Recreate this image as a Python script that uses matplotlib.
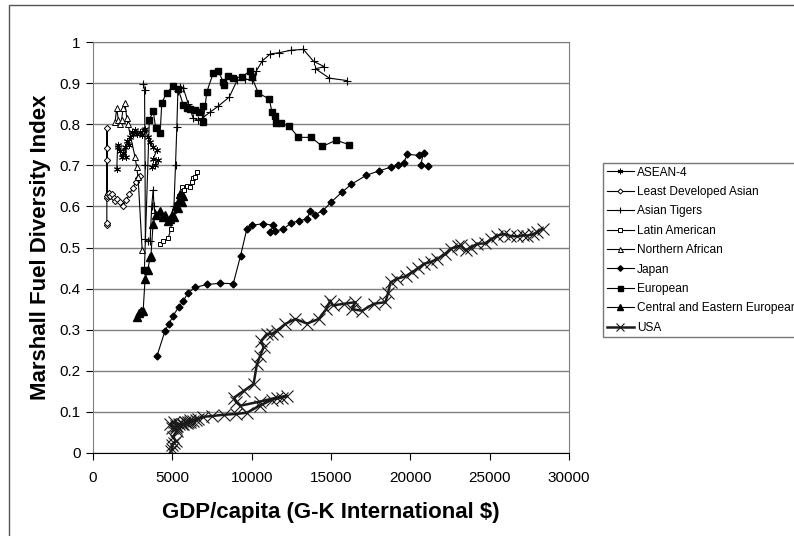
import matplotlib
matplotlib.use("Agg")
import matplotlib.pyplot as plt
from matplotlib.patches import Rectangle

plt.rcParams["font.family"] = ["Liberation Sans", "DejaVu Sans"]

# %%
# data (GDP/capita, Marshall index)
asean_x = [1500, 1550, 1600, 1700, 1800, 1900, 2000, 2050, 2150, 2250, 2350, 2440,
           2550, 2650, 2800, 2950, 3070, 3200, 3283, 3450, 3600, 3750, 4020, 3800,
           4120, 3900, 3700]
asean_y = [0.692, 0.745, 0.75, 0.735, 0.72, 0.73, 0.745, 0.72, 0.76, 0.75, 0.77, 0.781,
           0.775, 0.785, 0.775, 0.78, 0.773, 0.785, 0.789, 0.77, 0.757, 0.745, 0.737, 0.716,
           0.712, 0.70, 0.696]

lda_x = [860, 870, 875, 880, 880, 880, 900, 950, 1000, 1100, 1200, 1300, 1400, 1500,
         1700, 1894, 2100, 2300, 2500, 2700, 2850, 2970]
lda_y = [0.555, 0.56, 0.62, 0.79, 0.743, 0.714, 0.625, 0.63, 0.632, 0.625, 0.63, 0.62,
         0.612, 0.618, 0.61, 0.602, 0.615, 0.63, 0.645, 0.66, 0.668, 0.675]

tigers_x = [3180, 3250, 3280, 3300, 3450, 3600, 3700, 3790, 3850, 3900, 4100, 4300,
            4600, 4900, 5100, 5200, 5283, 5350, 5500, 5700, 6000, 6313, 6600, 6900,
            7400, 7900, 8585, 9090, 9600, 10040, 10300, 10670, 11175, 11740, 12480,
            13260, 13900, 14580, 14015, 14900, 16035]
tigers_y = [0.899, 0.883, 0.70, 0.52, 0.515, 0.517, 0.60, 0.64, 0.60, 0.583, 0.58, 0.575,
            0.565, 0.575, 0.60, 0.70, 0.793, 0.88, 0.89, 0.887, 0.85, 0.815, 0.81, 0.815,
            0.83, 0.844, 0.866, 0.907, 0.91, 0.907, 0.93, 0.954, 0.971, 0.974, 0.980,
            0.982, 0.953, 0.940, 0.935, 0.912, 0.906]

latin_x = [4230, 4440, 4735, 4900, 4950, 5100, 5300, 5450, 5600, 5750, 5900, 6124,
           6250, 6313, 6450, 6545]
latin_y = [0.509, 0.517, 0.522, 0.545, 0.57, 0.59, 0.605, 0.625, 0.647, 0.64, 0.65, 0.647,
           0.66, 0.668, 0.672, 0.683]

nafrica_x = [1390, 1494, 1600, 1700, 1800, 1900, 2020, 2125, 2200, 2650, 2750, 2840, 3100]
nafrica_y = [0.805, 0.839, 0.81, 0.80, 0.81, 0.84, 0.851, 0.815, 0.80, 0.72, 0.696, 0.671,
             0.493]

japan_x = [4040, 4545, 4800, 5050, 5400, 5685, 6000, 6440, 7175, 8017, 8840, 9300,
           9700, 10020, 10730, 11360, 11175, 11500, 12000, 12500, 13000, 13500, 13700,
           14000, 14500, 15000, 15700, 16290, 17235, 18000, 18810, 19200, 19570, 19820,
           20520, 20830, 20645, 21090]
japan_y = [0.237, 0.298, 0.315, 0.334, 0.355, 0.37, 0.39, 0.403, 0.41, 0.413, 0.412, 0.48,
           0.546, 0.554, 0.558, 0.554, 0.537, 0.54, 0.545, 0.56, 0.565, 0.57, 0.59,
           0.58, 0.59, 0.61, 0.635, 0.654, 0.676, 0.686, 0.696, 0.70, 0.705, 0.727,
           0.724, 0.73, 0.70, 0.698]

europe_x = [3240, 3550, 3800, 3950, 4230, 4337, 4650, 5070, 5370, 5700, 5950, 6130,
            6440, 6700, 6945, 6945, 7175, 7575, 7890, 8207, 8250, 8523, 8840, 9390,
            9910, 10000, 10420, 11110, 11280, 11490, 11550, 11850, 12375, 12940, 13745,
            14460, 15320, 16160]
europe_y = [0.446, 0.81, 0.832, 0.79, 0.778, 0.852, 0.877, 0.893, 0.885, 0.846, 0.84,
            0.837, 0.834, 0.83, 0.844, 0.806, 0.879, 0.924, 0.93, 0.903, 0.895, 0.917,
            0.912, 0.915, 0.93, 0.915, 0.876, 0.861, 0.83, 0.82, 0.802, 0.802, 0.795,
            0.768, 0.768, 0.746, 0.761, 0.75]

cee_x = [2760, 2900, 3000, 3160, 3283, 3450, 3600, 3650, 3790, 3950, 4230, 4400, 4550,
         4700, 4850, 4950, 5100, 5200, 5370, 5450, 5500, 5600, 5700]
cee_y = [0.33, 0.34, 0.345, 0.346, 0.424, 0.445, 0.476, 0.48, 0.558, 0.58, 0.59, 0.575,
         0.58, 0.565, 0.57, 0.58, 0.575, 0.60, 0.595, 0.615, 0.63, 0.61, 0.625]

usa_x = [4900, 5000, 4950, 5100, 5200, 5050, 5284, 5200, 4860, 5100, 5400, 5700, 5900,
         6100, 5800, 6313, 6630, 6100, 5300, 4950, 5250, 5600, 6000, 6500, 6945, 7500,
         8225, 9000, 9700, 10500, 11300, 11900, 12230, 11600, 10500, 9280, 9000, 8900,
         9490, 10120, 10330, 10540, 10750, 10600, 10960, 11300, 11600, 12120, 12750,
         13490, 14220, 14700, 14960, 15100, 15800, 16540, 16330, 16960, 17695, 18430,
         18600, 18750, 19170, 19700, 20120, 20500, 20850, 21300, 21700, 22200, 22540,
         23000, 23170, 23485, 23800, 24220, 24700, 25100, 25490, 25900, 26300, 26750,
         27100, 27380, 27700, 28010, 28330]
usa_y = [0.005, 0.01, 0.02, 0.025, 0.03, 0.04, 0.054, 0.06, 0.07, 0.075, 0.07, 0.07,
         0.072, 0.08, 0.075, 0.078, 0.083, 0.075, 0.065, 0.06, 0.065, 0.07, 0.075, 0.08,
         0.088, 0.09, 0.093, 0.095, 0.098, 0.115, 0.13, 0.135, 0.139, 0.135, 0.125,
         0.115, 0.125, 0.135, 0.151, 0.168, 0.216, 0.237, 0.257, 0.273, 0.29, 0.29, 0.298,
         0.314, 0.326, 0.315, 0.326, 0.35, 0.371, 0.359, 0.363, 0.367, 0.35, 0.346,
         0.363, 0.367, 0.39, 0.415, 0.424, 0.43, 0.44, 0.45, 0.46, 0.465, 0.472, 0.485,
         0.497, 0.503, 0.505, 0.493, 0.50, 0.509, 0.51, 0.52, 0.529, 0.533, 0.528, 0.527,
         0.53, 0.529, 0.532, 0.537, 0.546]

x_ticks = [0, 5000, 10000, 15000, 20000, 25000, 30000]
y_ticks = [0, 0.1, 0.2, 0.3, 0.4, 0.5, 0.6, 0.7, 0.8, 0.9, 1]
y_tick_labels = ["0", "0.1", "0.2", "0.3", "0.4", "0.5", "0.6", "0.7", "0.8", "0.9", "1"]

# %%
fig = plt.figure(figsize=(7.94, 5.36), dpi=100)
ax = fig.add_axes([93 / 794, 1 - 453 / 536, 476 / 794, 411 / 536])

# chart area border (runs off the right and bottom edges)
fig.patches.append(Rectangle((9 / 794, -0.2), 1.2, 1 - 5 / 536 + 0.2,
                             transform=fig.transFigure, fill=False,
                             edgecolor="#555555", linewidth=1.0))

thin = dict(color="black", linewidth=0.8)
ax.plot(asean_x, asean_y, marker=(6, 2, 0), markersize=5, markeredgewidth=0.7,
        label="ASEAN-4", **thin)
ax.plot(lda_x, lda_y, marker="D", markersize=3.2, markerfacecolor="white",
        markeredgewidth=0.7, label="Least Developed Asian", **thin)
ax.plot(tigers_x, tigers_y, marker="+", markersize=6, markeredgewidth=0.8,
        label="Asian Tigers", **thin)
ax.plot(latin_x, latin_y, marker="s", markersize=3.5, markerfacecolor="white",
        markeredgewidth=0.7, label="Latin American", **thin)
ax.plot(nafrica_x, nafrica_y, marker="^", markersize=4.5, markerfacecolor="white",
        markeredgewidth=0.7, label="Northern African", **thin)
ax.plot(japan_x, japan_y, marker="D", markersize=3.5, label="Japan", **thin)
ax.plot(europe_x, europe_y, marker="s", markersize=4.5, label="European", **thin)
ax.plot(cee_x, cee_y, marker="^", markersize=5.5,
        label="Central and Eastern European", **thin)
ax.plot(usa_x, usa_y, color="#1a1a1a", linewidth=1.8, marker="x", markersize=8,
        markeredgewidth=0.8, label="USA")

ax.set_xlim(0, 30000)
ax.set_ylim(0, 1)
ax.set_xticks(x_ticks)
ax.set_xticklabels([str(t) for t in x_ticks])
ax.set_yticks(y_ticks)
ax.set_yticklabels(y_tick_labels)
ax.grid(axis="y", color="#7f7f7f", linewidth=1.0)
ax.set_axisbelow(True)
ax.tick_params(axis="both", direction="out", length=5, width=0.8, labelsize=11,
               colors="black", pad=4)
ax.tick_params(axis="x", pad=8)
for side in ["left", "top", "right"]:
    ax.spines[side].set_color("#7f7f7f")
ax.spines["bottom"].set_color("black")

ax.set_xlabel("GDP/capita (G-K International $)", fontsize=16, fontweight="bold",
              labelpad=12)
ax.set_ylabel("Marshall Fuel Diversity Index", fontsize=16, fontweight="bold",
              labelpad=6)

leg = fig.legend(loc="upper left", bbox_to_anchor=(603 / 794, 1 - 163 / 536),
                 fontsize=8.6, frameon=True, fancybox=False, handlelength=2.3,
                 handletextpad=0.25, labelspacing=0.62, borderpad=0.3,
                 borderaxespad=0, markerscale=0.8)
leg.get_frame().set_edgecolor("#555555")
leg.get_frame().set_linewidth(1.0)

fig.savefig("out.png", dpi=100)
